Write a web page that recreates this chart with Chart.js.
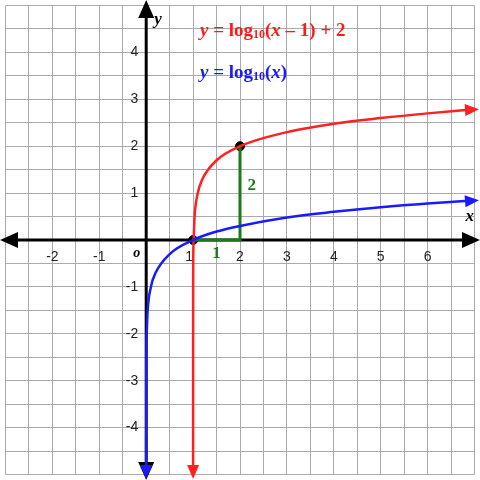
<!DOCTYPE html><html><head><meta charset="utf-8">
<script src="https://cdn.jsdelivr.net/npm/chart.js@4"></script>
<style>html,body{margin:0;padding:0;background:#fff}#w{width:480px;height:480px}</style></head><body><div id="w"><canvas id="c"></canvas></div>
<script>
const xTicks=[-2,-1,1,2,3,4,5,6];
const yTicks=[-4,-3,-2,-1,1,2,3,4];
const blueX=[0.00001,0.001,0.01,0.03,0.1,0.2,0.5,1,1.5,2,3,4,5,6,6.95];
const blueY=[-5,-3,-2,-1.52,-1,-0.7,-0.3,0,0.18,0.3,0.48,0.6,0.7,0.78,0.84];
const redX=[1.00001,1.001,1.01,1.03,1.1,1.2,1.5,2,3,4,5,6,6.95];
const redY=[-5,-1,0,0.48,1,1.3,1.7,2,2.3,2.48,2.6,2.7,2.78];
const greenX=[1,2,2];
const greenY=[0,0,2];
const dotX=[1,2];
const dotY=[0,2];
const pts=(a,b)=>a.map((v,i)=>({x:v,y:b[i]}));
const deco={id:'deco',
beforeDatasetsDraw(ch){const {ctx}=ch;const xs=ch.scales.x,ys=ch.scales.y;const px=v=>xs.getPixelForValue(v),py=v=>ys.getPixelForValue(v);
ctx.save();ctx.strokeStyle='#000';ctx.fillStyle='#000';ctx.lineWidth=3;
const x0=px(0),y0=py(0);
ctx.beginPath();ctx.moveTo(12,y0);ctx.lineTo(468,y0);ctx.moveTo(x0,12);ctx.lineTo(x0,468);ctx.stroke();
const tri=(a,b,c,d,e,f)=>{ctx.beginPath();ctx.moveTo(a,b);ctx.lineTo(c,d);ctx.lineTo(e,f);ctx.closePath();ctx.fill();};
tri(0,y0,18,y0-8,18,y0+8);tri(480,y0,462,y0-8,462,y0+8);tri(x0,0,x0-8,18,x0+8,18);tri(x0,480,x0-8,462,x0+8,462);
ctx.font='14px Arial';ctx.fillStyle='#222';ctx.textAlign='center';ctx.textBaseline='middle';
xTicks.forEach(v=>ctx.fillText(String(v),px(v)-(v===1?4:0),y0+17));
ctx.textAlign='right';yTicks.forEach(v=>ctx.fillText(String(v),x0-8,py(v)));
ctx.restore();},
afterDatasetsDraw(ch){const {ctx}=ch;const xs=ch.scales.x,ys=ch.scales.y;const px=v=>xs.getPixelForValue(v),py=v=>ys.getPixelForValue(v);
ctx.save();
const arrow=(x,y,ang,col)=>{ctx.fillStyle=col;ctx.save();ctx.translate(x,y);ctx.rotate(ang);ctx.beginPath();ctx.moveTo(0,0);ctx.lineTo(-14,-6);ctx.lineTo(-14,6);ctx.closePath();ctx.fill();ctx.restore();};
arrow(px(0.0),479,Math.PI/2,'#1a1aff');arrow(px(1),479,Math.PI/2,'#ff2020');
arrow(479,py(0.85),-0.08,'#1a1aff');arrow(479,py(2.79),-0.06,'#ff2020');
ctx.font='italic bold 17px "Liberation Serif"';ctx.fillStyle='#000';ctx.textBaseline='middle';ctx.textAlign='center';
ctx.fillText('x',px(6.9),py(0.5));ctx.fillText('y',px(0.25),py(4.7));
ctx.font='italic bold 14px "Liberation Serif"';ctx.fillText('o',px(-0.2),py(-0.28));
ctx.font='bold 17px "Liberation Serif"';ctx.fillStyle='#1a7a1a';
ctx.fillText('1',px(1.5),py(-0.3));ctx.fillText('2',px(2.25),py(1.15));
const eq=(parts,x,y,col)=>{ctx.fillStyle=col;ctx.textAlign='left';let cx=x;parts.forEach(p=>{ctx.font=(p[1]==='i'?'italic bold 19px':p[1]==='s'?'bold 12px':'bold 19px')+' "Liberation Serif"';ctx.fillText(p[0],cx,y+(p[1]==='s'?4:0));cx+=ctx.measureText(p[0]).width;});};
eq([['y','i'],[' = log','n'],['10','s'],['(','n'],['x','i'],[' \u2013 1) + 2','n']],200,31,'#ff1a1a');
eq([['y','i'],[' = log','n'],['10','s'],['(','n'],['x','i'],[')','n']],200,73,'#1a1aff');
ctx.restore();}};
new Chart(document.getElementById('c'),{type:'scatter',
data:{datasets:[
{data:pts(blueX,blueY),showLine:true,borderColor:'#1a1aff',borderWidth:2.5,pointRadius:0,cubicInterpolationMode:'monotone'},
{data:pts(redX,redY),showLine:true,borderColor:'#ff2020',borderWidth:2.5,pointRadius:0,cubicInterpolationMode:'monotone'},
{data:pts(greenX,greenY),showLine:true,borderColor:'#1a7a1a',borderWidth:3,pointRadius:0,tension:0},
{data:pts(dotX,dotY),showLine:false,pointRadius:4.5,pointBackgroundColor:'#000',pointBorderColor:'#000'}]},
options:{responsive:true,maintainAspectRatio:false,animation:false,layout:{padding:0},
plugins:{legend:{display:false},tooltip:{enabled:false}},
scales:{x:{type:'linear',min:-3,max:7,display:true,ticks:{display:false,stepSize:0.5},grid:{color:'#aaa',drawTicks:false,lineWidth:1},border:{display:false}},
y:{type:'linear',min:-5,max:5,display:true,ticks:{display:false,stepSize:0.5},grid:{color:'#aaa',drawTicks:false,lineWidth:1},border:{display:false}}}},
plugins:[deco]});
</script></body></html>
